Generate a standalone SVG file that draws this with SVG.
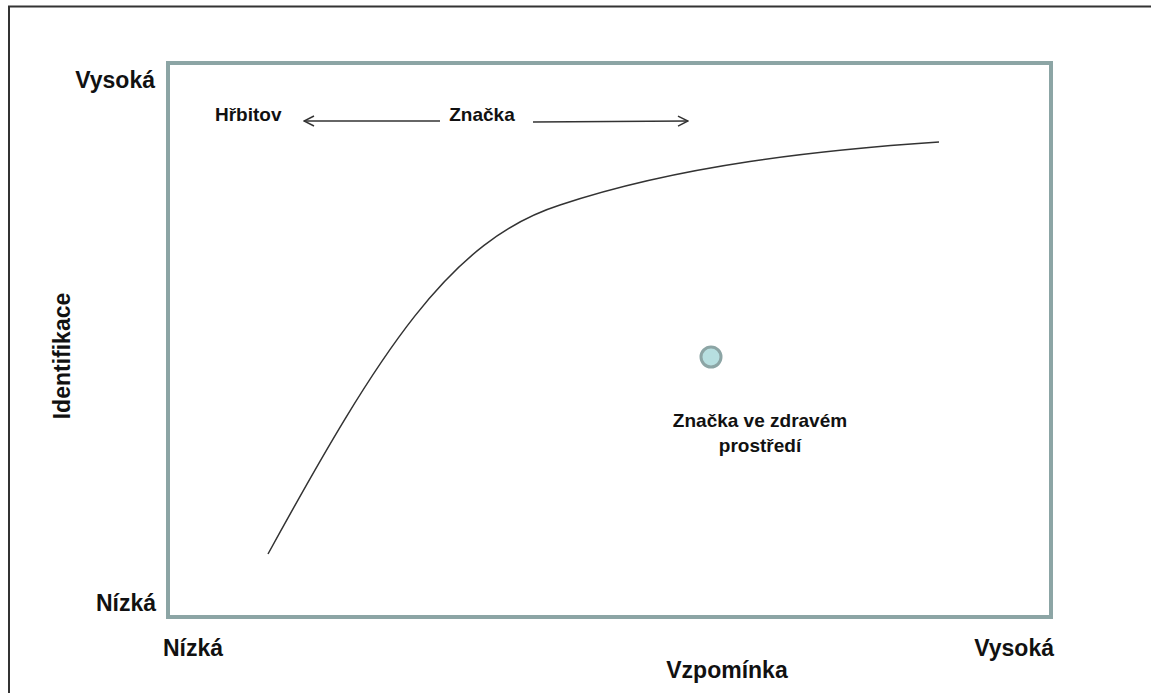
<svg xmlns="http://www.w3.org/2000/svg" width="1151" height="693" viewBox="0 0 1151 693">
<defs>
<style>
.t{font-family:"Liberation Sans",Arial,sans-serif;font-weight:bold;fill:#111}
.ax{font-size:23px}
.lb{font-size:19px}
.conn{fill:none;stroke:#333;stroke-width:1.5}
</style>
<marker id="open" viewBox="0 0 12 12" refX="11" refY="6" markerWidth="12" markerHeight="12" markerUnits="userSpaceOnUse" orient="auto">
<path d="M1,1 L11,6 L1,11" fill="none" stroke="#333" stroke-width="1.5"/>
</marker>
</defs>
<rect width="1151" height="693" fill="#fff"/>
<path d="M9,693 V6.5 H1151" fill="none" stroke="#333" stroke-width="2"/>
<g id="plot">
<rect x="168" y="63" width="883" height="554" fill="none" stroke="#8ca5a5" stroke-width="4"/>
</g>
<g id="axes-labels">
<text class="t ax" x="155" y="88" text-anchor="end">Vysoká</text>
<text class="t ax" x="156" y="611" text-anchor="end">Nízká</text>
<text class="t ax" x="163" y="656">Nízká</text>
<text class="t ax" x="1054" y="656" text-anchor="end">Vysoká</text>
<text class="t ax" x="727" y="678" text-anchor="middle">Vzpomínka</text>
<text class="t ax" transform="translate(70,356) rotate(-90)" text-anchor="middle">Identifikace</text>
</g>
<g id="hrbitov"><text class="t lb" x="215" y="121">Hřbitov</text></g>
<g id="znacka"><text class="t lb" x="482" y="121" text-anchor="middle">Značka</text></g>
<g id="point">
<circle cx="711" cy="357" r="10" fill="#b7dfe0" stroke="#8ca5a5" stroke-width="3"/>
<text class="t lb" x="760" y="427" text-anchor="middle">Značka ve zdravém</text>
<text class="t lb" x="760" y="452" text-anchor="middle">prostředí</text>
</g>
<g id="connectors">
<line class="conn" x1="440" y1="121" x2="304" y2="121" marker-end="url(#open)"/>
<line class="conn" x1="533" y1="122" x2="688" y2="121" marker-end="url(#open)"/>
<path class="conn" d="M268,554 C380,350 450,240 560,205 C680,165 820,150 939,142"/>
</g>
</svg>
